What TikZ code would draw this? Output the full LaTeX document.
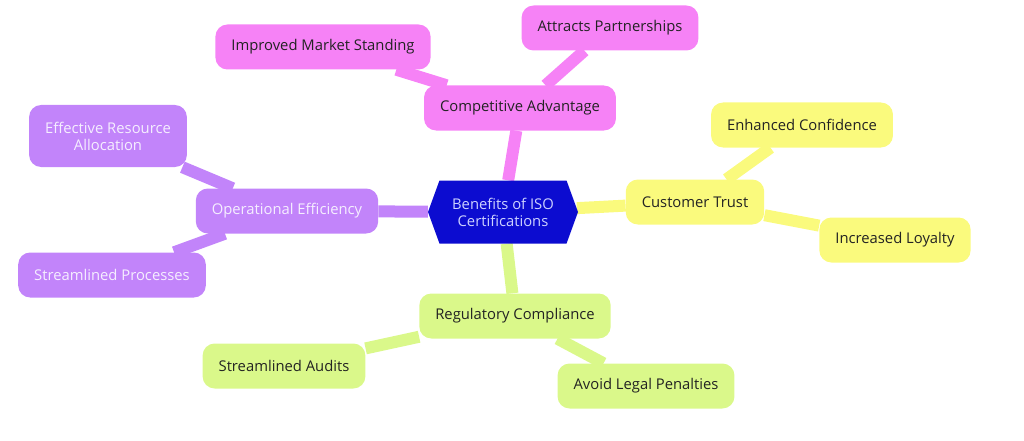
\documentclass[tikz,border=0pt]{standalone}
\usepackage{fontspec}
\setmainfont{Open Sans}
\usepackage{tikz}
\usetikzlibrary{shapes.symbols,backgrounds}
\definecolor{hubblue}{RGB}{12,12,208}
\definecolor{hubtext}{RGB}{205,210,255}
\definecolor{pinkish}{RGB}{246,130,246}
\definecolor{lemon}{RGB}{250,250,125}
\definecolor{lilac}{RGB}{194,132,250}
\definecolor{lime}{RGB}{218,248,138}
\definecolor{inkdark}{RGB}{35,35,35}
\definecolor{inklight}{RGB}{245,238,255}
\tikzset{
  topic/.style = {rounded corners=12pt, inner xsep=16pt, minimum height=45pt,
                  align=center, text=inkdark, font=\fontsize{14.8}{17}\selectfont},
  hub/.style   = {shape=signal, signal to=east and west, signal pointer angle=140,
                  fill=hubblue, text=hubtext, minimum width=150pt, minimum height=63pt,
                  inner xsep=4pt, align=center, font=\fontsize{14.8}{17}\selectfont},
  link/.style  = {line width=12pt},
}

\begin{document}
\begin{tikzpicture}[x=1pt,y=-1pt]
  \useasboundingbox (0,0) rectangle (1024,441);
  \node[hub] (iso) at (503,212) {Benefits of ISO\\Certifications};

  \node[topic,fill=pinkish] (comp) at (520,108) {Competitive Advantage};
  \node[topic,fill=pinkish] (market) at (323,47) {Improved Market Standing};
  \node[topic,fill=pinkish] (partner) at (610,28) {Attracts Partnerships};

  \node[topic,fill=lemon] (trust) at (695,202) {Customer Trust};
  \node[topic,fill=lemon] (confid) at (802,125) {Enhanced Confidence};
  \node[topic,fill=lemon] (loyal) at (895,240) {Increased Loyalty};

  \node[topic,fill=lilac,text=inklight] (opeff) at (287,211) {Operational Efficiency};
  \node[topic,fill=lilac,text=inklight,minimum height=62pt] (alloc) at (108,136)
      {Effective Resource\\Allocation};
  \node[topic,fill=lilac,text=inklight] (procs) at (112,275) {Streamlined Processes};

  \node[topic,fill=lime] (regul) at (515,316) {Regulatory Compliance};
  \node[topic,fill=lime] (audits) at (284,366) {Streamlined Audits};
  \node[topic,fill=lime] (legal) at (646,386) {Avoid Legal Penalties};

  \begin{scope}[on background layer]
    \draw[link,pinkish] (iso) -- (comp);
    \draw[link,pinkish] (comp) -- (market);
    \draw[link,pinkish] (comp) -- (partner);
    \draw[link,lemon] (iso) -- (trust);
    \draw[link,lemon] (trust) -- (confid);
    \draw[link,lemon] (trust) -- (loyal);
    \draw[link,lilac] (iso) -- (opeff);
    \draw[link,lilac] (opeff) -- (alloc);
    \draw[link,lilac] (opeff) -- (procs);
    \draw[link,lime] (iso) -- (regul);
    \draw[link,lime] (regul) -- (audits);
    \draw[link,lime] (regul) -- (legal);
  \end{scope}
\end{tikzpicture}
\end{document}
